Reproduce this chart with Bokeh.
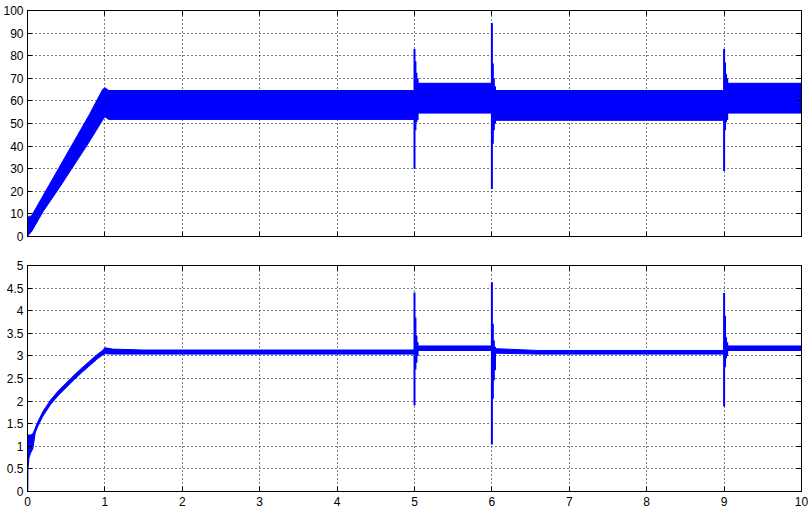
from bokeh.plotting import figure
from bokeh.layouts import column
from bokeh.models import Range1d, FixedTicker, LinearAxis, CustomJSTickFormatter
from bokeh.embed import file_html
from bokeh.resources import INLINE

# ---------------- data ----------------
x_ticks = [0, 1, 2, 3, 4, 5, 6, 7, 8, 9, 10]
x_tick_labels = ["0", "1", "2", "3", "4", "5", "6", "7", "8", "9", "10"]
y1_ticks = [0, 10, 20, 30, 40, 50, 60, 70, 80, 90, 100]
y1_tick_labels = ["0", "10", "20", "30", "40", "50", "60", "70", "80", "90", "100"]
y2_ticks = [0, 0.5, 1, 1.5, 2, 2.5, 3, 3.5, 4, 4.5, 5]
y2_tick_labels = ["0", "0.5", "1", "1.5", "2", "2.5", "3", "3.5", "4", "4.5", "5"]

# top signal: envelope of the fast ripple band
t_top = [0, 0.02, 0.05, 0.1, 0.2, 0.4, 0.6, 0.8, 0.97, 1.0, 1.05,
         5.0, 5.0, 5.05, 6.0, 6.0, 6.05, 9.0, 9.0, 9.05, 10.0]
hi_top = [8, 9, 9, 12, 18, 30, 42, 54, 65, 65.8, 64.6,
          64.6, 70, 67.8, 67.8, 66.5, 64.6, 64.6, 70, 67.8, 67.8]
lo_top = [0, 1, 2, 5, 11, 21, 31.5, 42, 51.5, 53, 51.8,
          51.8, 51.5, 54.6, 54.6, 50, 51.4, 51.4, 51.5, 54.6, 54.6]

# top signal: transient spikes at load steps
spike_t_top = [5.0, 5.012, 5.025, 5.04, 6.0, 6.012, 6.025, 6.04, 9.0, 9.012, 9.025, 9.04]
spike_hi_top = [83, 77.5, 72.5, 70, 94.5, 76.5, 70, 66.5, 83, 77, 72, 70]
spike_lo_top = [30, 47, 50.5, 51.5, 21, 41, 47, 50, 29, 47, 50.5, 51.5]

# bottom signal: envelope
t_bot = [0, 0.004, 0.006, 0.02, 0.04, 0.07, 0.1, 0.13, 0.2, 0.3, 0.4, 0.5, 0.6, 0.7, 0.8, 0.9, 0.97, 1.0,
         1.1, 1.5, 5.0, 5.0, 5.05, 6.0, 6.0, 6.05, 6.6, 9.0, 9.0, 9.05, 10.0]
hi_bot = [1.22, 1.25, 1.25, 1.25, 1.25, 1.28, 1.4, 1.53, 1.77, 2.03, 2.23, 2.4, 2.57, 2.73, 2.88, 3.03, 3.12, 3.18,
          3.15, 3.13, 3.13, 3.3, 3.22, 3.22, 3.2, 3.16, 3.12, 3.12, 3.3, 3.22, 3.22]
lo_bot = [0, 0, 0.5, 0.75, 0.85, 0.95, 1.3, 1.43, 1.67, 1.93, 2.13, 2.3, 2.47, 2.63, 2.78, 2.93, 3.02, 3.05,
          3.04, 3.04, 3.04, 3.0, 3.12, 3.12, 2.7, 3.06, 3.04, 3.04, 3.0, 3.12, 3.12]

spike_t_bot = [5.0, 5.012, 5.025, 5.04, 6.0, 6.012, 6.025, 6.04, 9.0, 9.012, 9.025, 9.04]
spike_hi_bot = [4.4, 3.85, 3.45, 3.3, 4.63, 3.71, 3.34, 3.2, 4.39, 3.89, 3.41, 3.3]
spike_lo_bot = [1.9, 2.7, 2.85, 3.0, 1.04, 2.05, 2.46, 2.68, 1.88, 2.75, 2.95, 3.0]

BLUE = "#0000ff"
FONT = "Liberation Sans"
blank = CustomJSTickFormatter(code="return ''")


def style(p, yticks, ylabels, show_x_labels):
    p.background_fill_color = "white"
    p.border_fill_color = "white"
    p.outline_line_color = "black"
    p.outline_line_width = 1
    p.outline_line_alpha = 1
    for ax in (p.xaxis[0], p.yaxis[0]):
        ax.axis_line_color = "black"
        ax.major_tick_line_color = "black"
        ax.major_tick_in = 5
        ax.major_tick_out = 0
        ax.minor_tick_line_color = None
        ax.major_label_text_font = FONT
        ax.major_label_text_font_size = "12px"
        ax.major_label_text_color = "black"
    p.xaxis[0].ticker = FixedTicker(ticks=x_ticks)
    p.yaxis[0].ticker = FixedTicker(ticks=yticks)
    p.yaxis[0].major_label_overrides = dict(zip(yticks, ylabels))
    p.yaxis[0].major_label_standoff = 4
    if show_x_labels:
        p.xaxis[0].major_label_overrides = dict(zip(x_ticks, x_tick_labels))
        p.xaxis[0].major_label_standoff = 5
    else:
        p.xaxis[0].formatter = blank
        p.xaxis[0].major_label_standoff = 0
    top = LinearAxis(ticker=FixedTicker(ticks=x_ticks), formatter=blank)
    right = LinearAxis(ticker=FixedTicker(ticks=yticks), formatter=blank)
    for ax in (top, right):
        ax.axis_line_color = "black"
        ax.major_tick_line_color = "black"
        ax.major_tick_in = 5
        ax.major_tick_out = 0
        ax.minor_tick_line_color = None
        ax.major_label_standoff = 0
    p.add_layout(top, "above")
    p.add_layout(right, "right")
    p.xgrid.ticker = FixedTicker(ticks=x_ticks)
    p.ygrid.ticker = FixedTicker(ticks=yticks)
    for g in (p.xgrid[0], p.ygrid[0]):
        g.grid_line_color = "black"
        g.grid_line_alpha = 1
        g.grid_line_width = 1
        g.grid_line_dash = "1 3"


p1 = figure(width=811, height=250, output_backend="svg", toolbar_location=None,
            x_range=Range1d(0, 10), y_range=Range1d(0, 100),
            min_border_left=26, min_border_right=10, min_border_top=10, min_border_bottom=14)
style(p1, y1_ticks, y1_tick_labels, False)
p1.varea(x=t_top, y1=lo_top, y2=hi_top, fill_color=BLUE, fill_alpha=1)
p1.line(x=t_top, y=hi_top, line_color=BLUE, line_width=1)
p1.line(x=t_top, y=lo_top, line_color=BLUE, line_width=1)
p1.segment(x0=spike_t_top, y0=spike_lo_top, x1=spike_t_top, y1=spike_hi_top,
           line_color=BLUE, line_width=2)

p2 = figure(width=811, height=260, output_backend="svg", toolbar_location=None,
            x_range=Range1d(0, 10), y_range=Range1d(0, 5),
            min_border_left=26, min_border_right=10, min_border_top=15, min_border_bottom=19)
style(p2, y2_ticks, y2_tick_labels, True)
p2.varea(x=t_bot, y1=lo_bot, y2=hi_bot, fill_color=BLUE, fill_alpha=1)
p2.line(x=t_bot, y=hi_bot, line_color=BLUE, line_width=1)
p2.line(x=t_bot, y=lo_bot, line_color=BLUE, line_width=1)
p2.segment(x0=spike_t_bot, y0=spike_lo_bot, x1=spike_t_bot, y1=spike_hi_bot,
           line_color=BLUE, line_width=2)

layout = column(p1, p2, spacing=0)
open("out.html", "w").write(file_html(layout, INLINE))
